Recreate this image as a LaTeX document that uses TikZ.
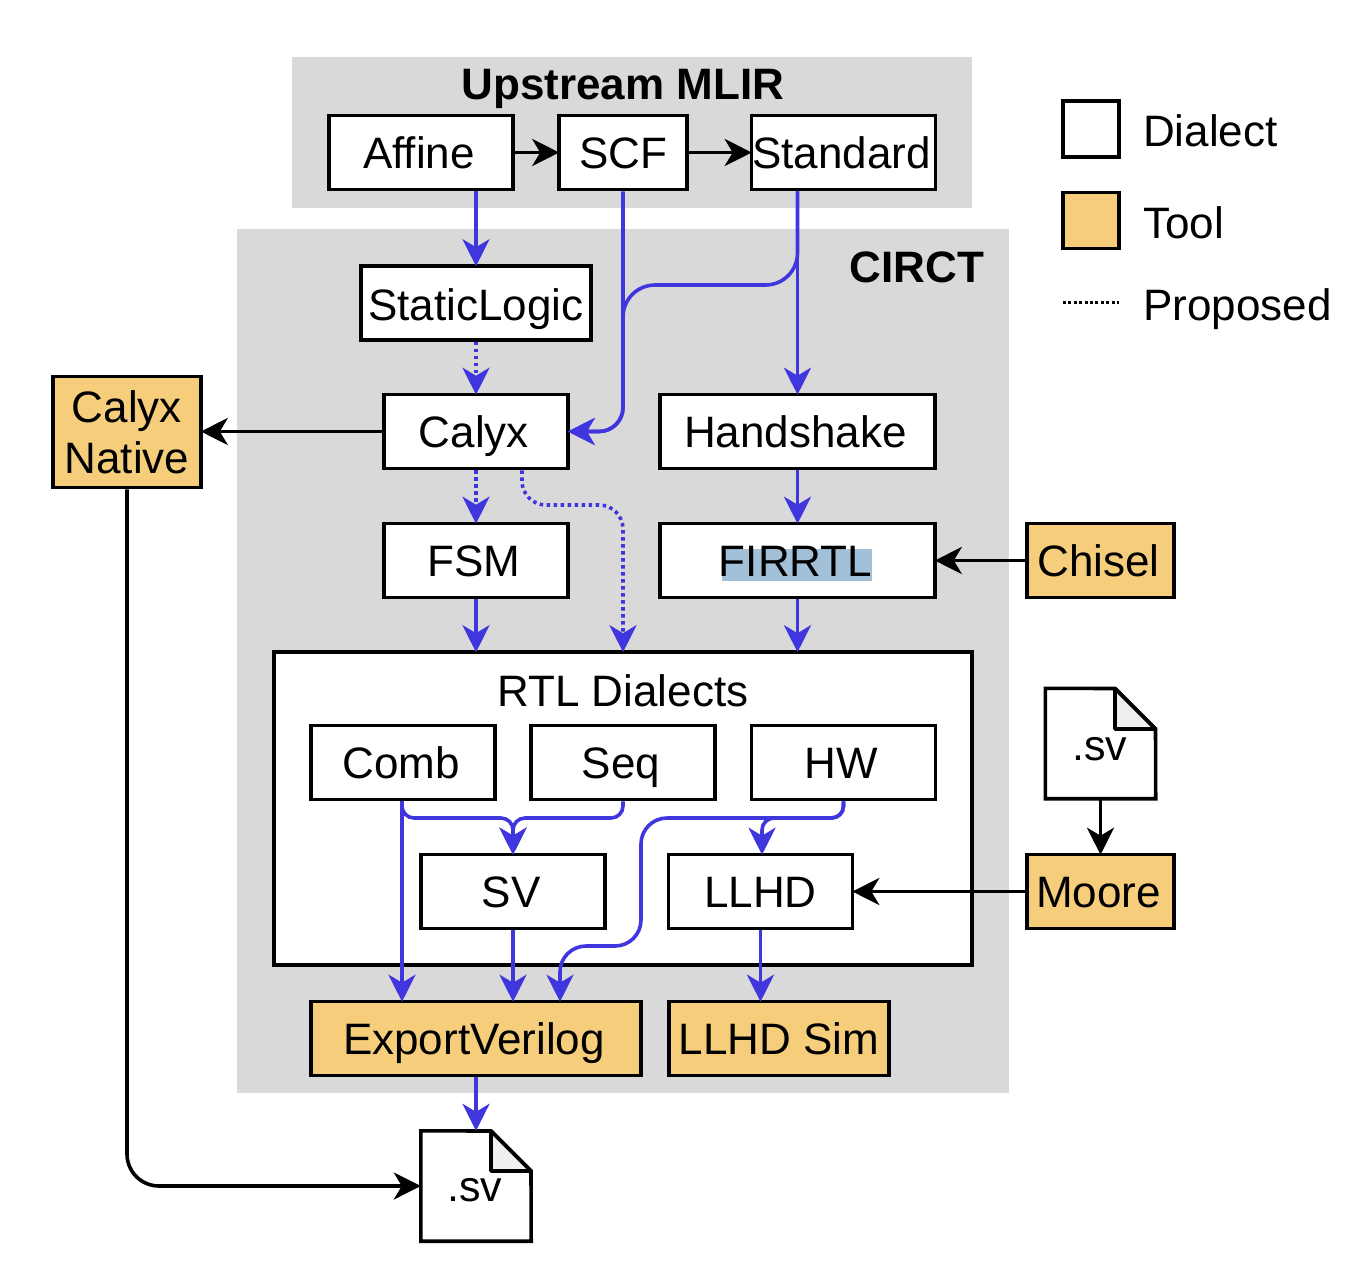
\documentclass[tikz,border=0pt]{standalone}
\usepackage{fontspec}
\setmainfont{Liberation Sans}
\usetikzlibrary{arrows.meta}

\definecolor{backgray}{HTML}{D9D9D9}
\definecolor{toolfill}{HTML}{F5CD7B}
\definecolor{flowblue}{HTML}{4036DE}
\definecolor{hilite}{HTML}{A3C0D9}
\definecolor{foldgray}{HTML}{EFEFEF}

\tikzset{
    dialect/.style={draw=black, fill=white, line width=3.6pt, inner sep=0pt, text height=31pt, text depth=0pt, font=\fontsize{44}{51}\selectfont},
    tool/.style={dialect, fill=toolfill},
    plain/.style={inner sep=0pt, text height=31pt, text depth=0pt, font=\fontsize{44}{51}\selectfont},
    nudge/.style={execute at begin node={\hspace*{-4pt}}},
    flow/.style={draw=flowblue, line width=3.6pt, shorten >=-2pt, -{Stealth[length=27pt,width=27pt,inset=8pt]}},
    proposed/.style={flow, dash pattern=on 3.5pt off 3.5pt},
    feed/.style={draw=black, line width=3.6pt, shorten >=-2pt, -{Stealth[length=27pt,width=27pt,inset=8pt]}}
}

\begin{document}
\begin{tikzpicture}[x=1pt, y=-1pt]
    \useasboundingbox (0,0) rectangle (1348,1272);

    \fill[backgray] (292,57) rectangle (972,208);
    \fill[backgray] (237,229) rectangle (1009,1093);
    \node[plain, font=\fontsize{44}{51}\selectfont\bfseries] (upstream) at (623,84) {Upstream MLIR};
    \node[plain, font=\fontsize{44}{51}\selectfont\bfseries] (circt) at (917,267) {CIRCT};

    \node[dialect, nudge, minimum width=184, minimum height=74] (affine) at (421,152.5) {Affine};
    \node[dialect, minimum width=128, minimum height=74] (scf) at (623,152.5) {SCF};
    \node[dialect, nudge, minimum width=184, minimum height=74] (standard) at (843.5,152.5) {Standard};
    \node[dialect, text height=34pt, minimum width=230, minimum height=74] (staticlogic) at (476,303) {StaticLogic};
    \node[dialect, nudge, minimum width=184, minimum height=74] (calyx) at (476,431.5) {Calyx};
    \node[dialect, nudge, minimum width=275, minimum height=74] (handshake) at (797.5,431.5) {Handshake};
    \node[dialect, nudge, minimum width=184, minimum height=74] (fsm) at (476,560.5) {FSM};
    \node[dialect, minimum width=275, minimum height=74] (firrtl) at (797.5,560.5) {};
    \fill[hilite] (722,549) rectangle (872,581);
    \node[plain, nudge] (firrtltext) at (firrtl) {FIRRTL};

    \node[dialect, minimum width=698, minimum height=313] (rtl) at (623,808.5) {};
    \node[plain] (rtllabel) at (623,691) {RTL Dialects};
    \node[dialect, nudge, minimum width=184, minimum height=74] (comb) at (403,762.5) {Comb};
    \node[dialect, nudge, minimum width=184, minimum height=74] (seq) at (623,762.5) {Seq};
    \node[dialect, nudge, minimum width=184, minimum height=74] (hw) at (843.5,762.5) {HW};
    \node[dialect, nudge, minimum width=184, minimum height=74] (sv) at (513,891.5) {SV};
    \node[dialect, minimum width=184, minimum height=74] (llhd) at (760.5,891.5) {LLHD};

    \node[tool, nudge, minimum width=330, minimum height=74] (exportverilog) at (476,1038.5) {ExportVerilog};
    \node[tool, minimum width=220, minimum height=74] (llhdsim) at (779,1038.5) {LLHD Sim};
    \node[tool, minimum width=148, minimum height=111, text height={}, text depth={}, align=center] (native) at (127,432) {Calyx\\Native};
    \node[tool, nudge, minimum width=147, minimum height=74] (chisel) at (1100.5,560.5) {Chisel};
    \node[tool, nudge, minimum width=147, minimum height=74] (moore) at (1100.5,891.5) {Moore};

    % the two files
    \node[minimum width=110, minimum height=110, inner sep=0pt] (svout) at (476,1186) {};
    \draw[line width=3.6pt, fill=white] (svout.north west) -- (491,1131) -- (531,1171) -- (svout.south east) -- (svout.south west) -- cycle;
    \draw[line width=3.6pt, fill=foldgray, line join=bevel] (491,1131) -- (531,1171) -- (491,1171) -- cycle;
    \node[plain, text height=29pt, font=\fontsize{43}{50}\selectfont] (svoutlabel) at (475,1187) {.sv};

    \node[minimum width=110, minimum height=110, inner sep=0pt] (svin) at (1100.5,743.5) {};
    \draw[line width=3.6pt, fill=white] (svin.north west) -- (1115,688.5) -- (1155.5,729) -- (svin.south east) -- (svin.south west) -- cycle;
    \draw[line width=3.6pt, fill=foldgray, line join=bevel] (1115,688.5) -- (1155.5,729) -- (1115,729) -- cycle;
    \node[plain, text height=29pt, font=\fontsize{43}{50}\selectfont] (svinlabel) at (1100,746) {.sv};

    % flows
    \draw[feed] (affine) -- (scf);
    \draw[feed] (scf) -- (standard);
    \draw[flow] (affine.south -| staticlogic.north) -- (staticlogic.north);
    \draw[proposed] (staticlogic) -- (calyx);
    \draw[flow] (handshake.north |- standard.south) -- (handshake.north);
    \draw[flow, rounded corners=24] (scf.south) -- (scf.south |- calyx.east) -- (calyx.east);
    \draw[flow, rounded corners=32] (handshake.north |- standard.south) -- (797.5,285) -- (623,285) [rounded corners=24] -- (623,431.5) -- (calyx.east);
    \draw[proposed] (calyx) -- (fsm);
    \draw[proposed, rounded corners=24] ([xshift=46pt]calyx.south) -- (522,505) -- (623,505) -- (rtl.north);
    \draw[flow] (handshake) -- (firrtl);
    \draw[flow] (fsm.south) -- (fsm.south |- rtl.north);
    \draw[flow] (firrtl.south) -- (firrtl.south |- rtl.north);

    \draw[flow, rounded corners=12] ([xshift=-1pt]comb.south) -- (402,818) -- (513,818) -- (sv.north);
    \draw[flow, rounded corners=12] (seq.south) -- (623,818) -- (513,818) -- (sv.north);
    \draw[flow, rounded corners=12] (hw.south) -- (843.5,818) -- (762,818) -- ([xshift=1.5pt]llhd.north);
    \draw[flow, rounded corners=12] (hw.south) -- (843.5,818) [rounded corners=26] -- (641,818) -- (641,946) -- (560,946) -- ([xshift=84pt]exportverilog.north);
    \draw[flow] ([xshift=-1pt]comb.south) -- ([xshift=-1pt]comb.south |- exportverilog.north);
    \draw[flow] (sv.south) -- (sv.south |- exportverilog.north);
    \draw[flow] (llhd.south) -- (llhd.south |- llhdsim.north);
    \draw[flow, shorten >=0pt] (exportverilog.south) -- (svout.north);

    \draw[feed] (calyx.west) -- (calyx.west -| native.east);
    \draw[feed, shorten >=0pt, rounded corners=32] (native.south) -- (native.south |- svout.west) -- (svout.west);
    \draw[feed] (chisel) -- (firrtl);
    \draw[feed] (moore) -- (llhd);
    \draw[feed] (svin) -- (moore);

    % legend
    \node[dialect, minimum width=56, minimum height=56] (legdialect) at (1091,129) {};
    \node[tool, minimum width=56, minimum height=56] (legtool) at (1091,220.5) {};
    \coordinate (legstart) at (1063,302);
    \coordinate (legend) at (1119,302);
    \draw[line width=3pt, dash pattern=on 3pt off 2.4pt] (legstart) -- (legend);
    \node[plain, anchor=west] (legdialecttext) at (1143,131) {Dialect};
    \node[plain, anchor=west] (legtooltext) at (1143,223) {Tool};
    \node[plain, anchor=west] (legproposedtext) at (1143,305) {Proposed};
\end{tikzpicture}
\end{document}
